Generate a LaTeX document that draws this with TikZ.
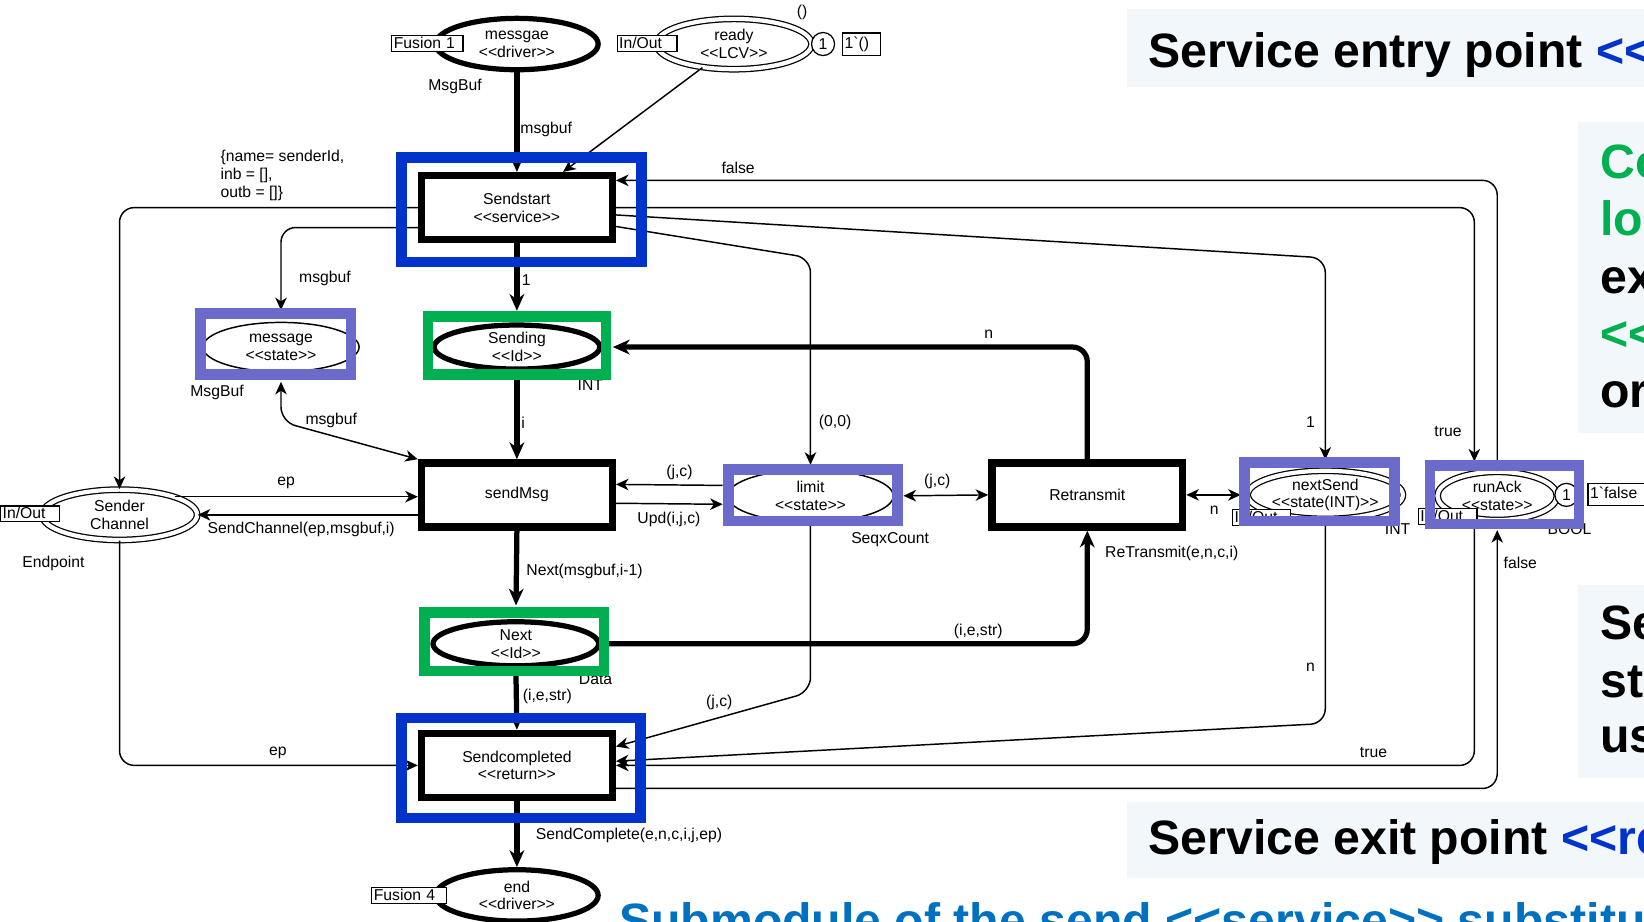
\documentclass[tikz,border=0pt]{standalone}
\usepackage{fontspec}
\setmainfont{Liberation Sans}[Ligatures=TeXOff]
\usetikzlibrary{shapes.geometric,arrows.meta,calc}
\definecolor{hlblue}{RGB}{0,51,204}
\definecolor{hlgreen}{RGB}{0,176,80}
\definecolor{hlpurple}{RGB}{107,107,204}
\definecolor{notebg}{RGB}{242,247,251}
\definecolor{titleblue}{RGB}{0,112,192}
\begin{document}
\begin{tikzpicture}[x=0.5pt,y=-0.5pt,font=\fontsize{7.5}{8.5}\selectfont,
  >={Stealth[length=6pt,width=5.5pt,inset=1.8pt]},
  trans/.style={draw,line width=3.5pt,fill=white,minimum width=91pt,minimum height=30.5pt,align=center},
  place/.style={ellipse,draw,line width=0.7pt,fill=white,inner sep=0pt,align=center},
  fatplace/.style={place,line width=2.5pt},
  ioplace/.style={place,line width=0.6pt,double,double distance=2pt},
  tag/.style={draw,fill=white,line width=0.6pt,inner xsep=1pt,inner ysep=0.6pt,text height=5.4pt,text depth=0.8pt,align=left,anchor=west},
  tokbox/.style={tag,text height=6pt,text depth=2pt,inner ysep=1.3pt},
  token/.style={circle,draw,fill=white,line width=0.6pt,inner sep=0pt,minimum size=11pt},
  lab/.style={yshift=-1pt},
  arc/.style={line width=0.7pt,->,rounded corners=7pt},
  fatarc/.style={line width=2.5pt,-{Stealth[length=8pt,width=7pt,inset=2.5pt]},rounded corners=7pt},
  hl/.style={line width=5pt},
  note/.style={font=\fontsize{23}{23}\selectfont\bfseries,anchor=base west,inner sep=0pt}]
\useasboundingbox (0,0) rectangle (1568,879);
\clip (0,0) rectangle (1568,879);

\fill[notebg] (1075,9) rectangle (1600,83);
\fill[notebg] (1505,116) rectangle (1600,413);
\fill[notebg] (1505,558) rectangle (1600,742);
\fill[notebg] (1075,765) rectangle (1600,837);
\node[note] (entry) at (1095,64) {Service entry point \textcolor{hlblue}{<<}};
\node[note,hlgreen] (g1) at (1526,170) {Co};
\node[note,hlgreen] (g2) at (1526,225) {lo};
\node[note] (g3) at (1526,280) {ex};
\node[note,hlgreen] (g4) at (1526,334) {<<};
\node[note] (g5) at (1526,389) {or};
\node[note] (s1) at (1526,610) {Se};
\node[note] (s2) at (1526,665) {st};
\node[note] (s3) at (1526,718) {us};
\node[note] (exit) at (1095,815) {Service exit point \textcolor{hlblue}{<<re}};
\node[note,titleblue] (title) at (590,894) {Submodule of the send <<service>> substitut};

\node[fatplace,minimum width=77.5pt,minimum height=24.5pt] (messgae) at (493,42) {messgae\\<<driver>>};
\node[ioplace,minimum width=74pt,minimum height=24pt] (ready) at (700,42) {ready\\<<LCV>>};
\node[trans] (sendstart) at (493,198) {Sendstart\\<<service>>};
\node[place,minimum width=74.5pt,minimum height=23.5pt] (message) at (268,331) {message\\<<state>>};
\node[fatplace,minimum width=79pt,minimum height=21pt] (sending) at (493,331) {Sending\\<<Id>>};
\node[ioplace,minimum width=74pt,minimum height=24pt] (sender) at (114,491) {Sender\\Channel};
\node[trans] (sendmsg) at (493,472) {sendMsg};
\node[place,minimum width=79pt,minimum height=25pt] (limit) at (773,473) {limit\\<<state>>};
\node[trans] (retransmit) at (1037,472) {Retransmit};
\node[ioplace,minimum width=74pt,minimum height=23pt] (nextsend) at (1264,472) {nextSend\\<<state(INT)>>};
\node[ioplace,minimum width=57pt,minimum height=23pt] (runack) at (1428,473) {runAck\\<<state>>};
\node[fatplace,minimum width=79pt,minimum height=21pt] (next) at (492,614) {Next\\<<Id>>};
\node[trans] (sendcompleted) at (493,730) {Sendcompleted\\<<return>>};
\node[fatplace,minimum width=77.5pt,minimum height=24.5pt] (endp) at (493,854) {end\\<<driver>>};

\draw[fatarc] (messgae.south) -- (sendstart.north);
\draw[fatarc,shorten >=5.5pt] (sendstart.south) -- (sending.north);
\draw[fatarc] (sending.south) -- (sendmsg.north);
\draw[fatarc,shorten >=6.5pt] (sendmsg.south) -- (next.north);
\draw[fatarc] (next.south) -- (sendcompleted.north);
\draw[fatarc] (sendcompleted.south) -- (endp.north);
\draw[fatarc] (next.east) -| (retransmit.south);
\draw[fatarc,shorten >=5pt] (retransmit.north) |- (sending.east);

\draw[arc] (ready) -- ($(sendstart.north)+(44,0)$);
\draw[arc] (sendstart.west) -| (sender.north);
\draw[arc,shorten >=5.5pt] ([yshift=-9.5pt]sendstart.west) -| (message.north);
\draw[arc,<->,shorten <=4.5pt] (message.south) -- ++(0,47) -- (sendmsg.north west);
\draw[arc] (sender.18) -- (sender.18 -| sendmsg.west);
\draw[arc] (sender.east -| sendmsg.west) -- (sender.east);
\draw[arc,shorten <=2pt] ([yshift=5pt]limit.west) -- ([yshift=5pt]sendmsg.east);
\draw[arc,shorten >=2pt] ([yshift=-4pt]sendmsg.east) -- ([yshift=-4pt]limit.west);
\draw[arc,<->,shorten <=4.5pt] (limit.east) -- (retransmit.west);
\draw[arc,<->,shorten >=3pt] (retransmit.east) -- (nextsend.west);
\draw[arc,shorten >=2pt] ([yshift=-9pt]sendstart.east) -- (limit.north |- 0,246) -- (limit.north);
\draw[arc,shorten >=5pt] ([yshift=-3.5pt]sendstart.east) -- (nextsend.north |- 0,246) -- (nextsend.north);
\draw[arc,shorten >=5.5pt] (sendstart.east) -| (runack.135);
\draw[arc] (runack.north) |- ([yshift=13pt]sendstart.east);
\draw[arc,shorten >=4.5pt] ([yshift=-11pt]sendcompleted.east) -| (runack.south);
\draw[arc] (runack.-135) |- (sendcompleted.east);
\draw[arc] (nextsend.south) -- (nextsend.south |- 0,690) -- ([yshift=2pt]sendcompleted.east);
\draw[arc] (limit.south) -- (limit.south |- 0,660) -- ([yshift=9pt]sendcompleted.east);
\draw[arc] (sender.south) |- (sendcompleted.west);

\node[tag,text width=32pt] (fusion1) at (373,41.5) {Fusion 1};
\node[tag,text width=26.5pt] (readyio) at (588,41.5) {In/Out};
\node[token] (readytok) at (785,42) {1};
\node[tokbox,text width=16pt] (readymark) at (803,42) {1`()};
\node[tag,text width=26pt] (senderio) at (0,490) {In/Out};
\node[tag,text width=25.5pt] (nextsendio) at (1175,493.5) {In/Out};
\node[tag,text width=26pt] (runackio) at (1352,492.5) {In/Out};
\node[token] (runacktok) at (1494,472) {1};
\node[tokbox,text width=25pt] (runackmark) at (1514,471.5) {1`false};
\node[tag,text width=33.5pt] (fusion4) at (354,854) {Fusion 4};

\node[lab] (unitlab) at (765,10) {()};
\node[lab] (msgbuftype) at (434,80) {MsgBuf};
\node[anchor=north west,align=left,inner sep=0pt] (initlab) at (210,143) {\{name= senderId,\\inb = [],\\outb = []\}};
\node[lab] (msgbufa) at (521,121) {msgbuf};
\node[lab] (falsea) at (704,158) {false};
\node[lab] (msgbufb) at (310,264) {msgbuf};
\node[lab] (onea) at (502,265) {1};
\node[lab] (nret) at (943,317) {n};
\node[lab] (msgbuftype2) at (207,372) {MsgBuf};
\node[lab] (msgbufc) at (316,399) {msgbuf};
\node[lab] (ilab) at (499,401) {i};
\node[lab,anchor=west] (zerolab) at (774,401) {(0,0)};
\node[lab] (oneb) at (1250,401) {1};
\node[lab] (truea) at (1381,410) {true};
\node[lab] (epa) at (273,459) {ep};
\node[lab] (jca) at (648,449) {(j,c)};
\node[lab] (jcb) at (894,457) {(j,c)};
\node[lab] (updlab) at (638,493) {Upd(i,j,c)};
\node[lab] (nnext) at (1158,485) {n};
\node[lab,anchor=west] (sendchlab) at (191,503) {SendChannel(ep,msgbuf,i)};
\node[lab] (seqx) at (849,513) {SeqxCount};
\node[lab,anchor=west] (rtlab) at (1047,526) {ReTransmit(e,n,c,i)};
\node[lab] (endpointlab) at (51,535) {Endpoint};
\node[lab] (falseb) at (1450,535) {false};
\node[lab,anchor=west] (nextlab) at (495,543) {Next(msgbuf,i-1)};
\node[lab] (iesa) at (933,600) {(i,e,str)};
\node[lab] (nb) at (1250,634) {n};
\node[lab] (iesb) at (522,662) {(i,e,str)};
\node[lab] (jcc) at (686,668) {(j,c)};
\node[lab] (trueb) at (1310,716) {true};
\node[lab] (epb) at (265,716) {ep};
\node[lab,anchor=west] (completelab) at (504,795) {SendComplete(e,n,c,i,j,ep)};
\node[lab] (inta) at (563,365) {INT};
\node[lab] (intb) at (1333,503) {INT};
\node[lab] (boollab) at (1497,503) {BOOL};
\node[lab] (datalab) at (568,646) {Data};

\draw[hl,hlblue] (383,150) rectangle (612,250);
\draw[hl,hlblue] (383,685) rectangle (611,780);
\draw[hl,hlgreen] (408,302) rectangle (578,357);
\draw[hl,hlgreen] (405,584) rectangle (576,640);
\draw[hl,hlpurple] (191,299) rectangle (335,357);
\draw[hl,hlpurple] (695,448) rectangle (856,497);
\draw[hl,hlpurple] (1187,441) rectangle (1330,497);
\draw[hl,hlpurple] (1364,444) rectangle (1506,500);
\end{tikzpicture}
\end{document}
